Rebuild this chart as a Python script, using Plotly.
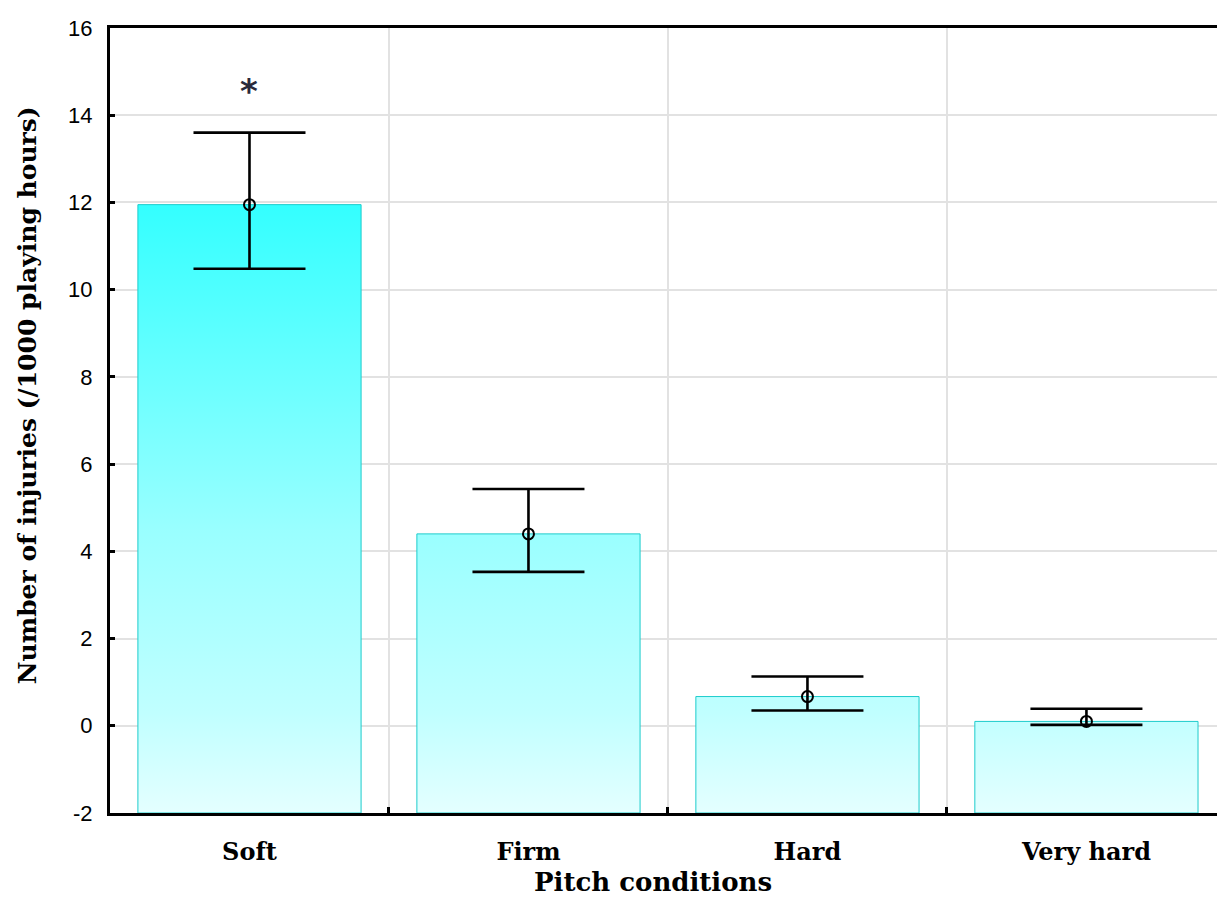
import plotly.graph_objects as go

# Injury rates by pitch condition (mean with lower/upper interval bounds)
categories = ["Soft", "Firm", "Hard", "Very hard"]
injury_rate = [11.95, 4.40, 0.67, 0.10]
upper_bound = [13.60, 5.43, 1.13, 0.39]
lower_bound = [10.48, 3.53, 0.35, 0.02]
significance = ["*", "", "", ""]
significance_y = [14.55, None, None, None]

y_ticks = [-2, 0, 2, 4, 6, 8, 10, 12, 14, 16]
y_tick_text = ["-2", "0", "2", "4", "6", "8", "10", "12", "14", "16"]
y_min, y_max = -2, 16
bar_half = 0.4

idx = list(range(len(categories)))

# Bars as closed polygons from the axis floor up to each value, one shared vertical gradient
bx, by = [], []
for i, v in zip(idx, injury_rate):
    bx += [i - bar_half, i + bar_half, i + bar_half, i - bar_half, i - bar_half, None]
    by += [y_min, y_min, v, v, y_min, None]

fig = go.Figure()
fig.add_trace(go.Scatter(
    x=bx, y=by, mode="lines", fill="toself",
    line=dict(color="#1ccccc", width=1),
    fillgradient=dict(
        type="vertical", start=y_min, stop=y_max,
        colorscale=[[0.0, "#e4ffff"], [0.128, "#c0ffff"], [0.361, "#99ffff"],
                    [0.778, "#33ffff"], [1.0, "#00ffff"]],
    ),
    hoverinfo="skip", showlegend=False,
))

fig.add_trace(go.Scatter(
    x=idx, y=injury_rate, mode="markers",
    marker=dict(symbol="circle-open", size=11, color="black", line=dict(width=2, color="black")),
    error_y=dict(
        type="data", symmetric=False,
        array=[u - v for u, v in zip(upper_bound, injury_rate)],
        arrayminus=[v - l for v, l in zip(injury_rate, lower_bound)],
        color="black", thickness=2.6, width=56,
    ),
    showlegend=False,
))

for i, s, sy in zip(idx, significance, significance_y):
    if s:
        fig.add_annotation(x=i, y=sy, text=f"<b>{s}</b>", showarrow=False, yanchor="middle",
                           font=dict(family="DejaVu Sans", size=34, color="#2a2a3a"))

fig.add_annotation(xref="paper", yref="paper", x=0.4905, y=-0.066, yanchor="top",
                   xanchor="center",
                   text="<b>Pitch conditions</b>", showarrow=False,
                   font=dict(family="DejaVu Serif", size=26, color="black"))
fig.add_annotation(xref="paper", yref="paper", x=-0.075, y=0.532, textangle=-90,
                   xanchor="center", yanchor="middle",
                   text="<b>Number of injuries (/1000 playing hours)</b>", showarrow=False,
                   font=dict(family="DejaVu Serif", size=25, color="black"))

fig.update_layout(
    width=1217, height=921,
    margin=dict(l=110, r=0, t=28, b=108),
    plot_bgcolor="white", paper_bgcolor="white",
    xaxis=dict(
        range=[-0.5, 3.468],
        tickmode="array", tickvals=idx,
        ticktext=[f"<b>{c}</b>" for c in categories],
        tickfont=dict(family="DejaVu Serif", size=24, color="black"),
        ticks="", showgrid=False, zeroline=False,
        ticklabelstandoff=15,
        showline=True, linecolor="black", linewidth=3, mirror=True,
        minor=dict(tickmode="array", tickvals=[0.5, 1.5, 2.5], showgrid=True,
                   gridcolor="#e2e2e2", gridwidth=1.5,
                   ticks="inside", ticklen=6, tickwidth=3, tickcolor="black"),
    ),
    yaxis=dict(
        range=[y_min, y_max],
        tickmode="array", tickvals=y_ticks, ticktext=y_tick_text,
        tickfont=dict(family="Liberation Sans", size=22, color="black"),
        ticks="inside", ticklen=5, tickwidth=3, tickcolor="black",
        ticklabelstandoff=10,
        showgrid=True, gridcolor="#e2e2e2", gridwidth=1.5, zeroline=False,
        showline=True, linecolor="black", linewidth=3,
    ),
)

fig.write_html("out.html")
